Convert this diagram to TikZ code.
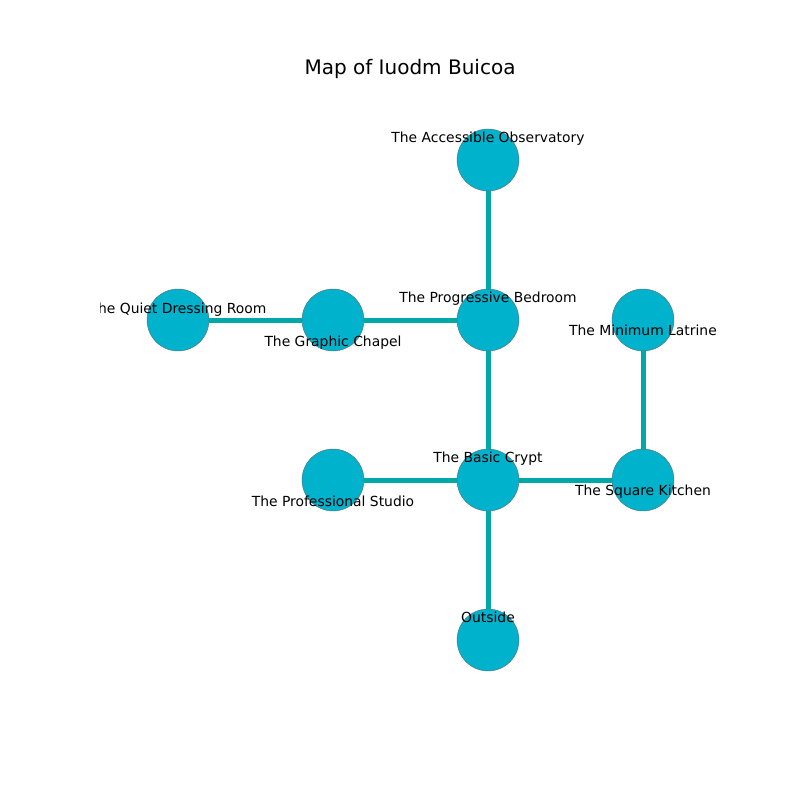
\documentclass[tikz,border=0pt]{standalone}
\usepackage{fontspec}
\setmainfont{DejaVu Sans}
\usepackage{xcolor}

\definecolor{roomfill}{RGB}{0,178,204}
\definecolor{roomedge}{RGB}{80,110,120}
\definecolor{passage}{RGB}{0,168,170}

\tikzset{
  room/.style={circle, fill=roomfill, draw=roomedge, line width=0.3pt,
    minimum size=44.6pt, inner sep=0pt},
  passage/.style={draw=passage, line width=3.6pt},
  roomname/.style={font=\fontsize{10}{12}\selectfont, inner sep=0pt}
}

\begin{document}
\begin{tikzpicture}[x=0.72pt, y=-0.72pt]
\useasboundingbox (0,0) rectangle (800,800);

% title
\node[font=\fontsize{14.4}{17}\selectfont] (title) at (410,69) {Map of Iuodm Buicoa};

% rooms
\node[room] (observatory) at (488,160) {};
\node[room] (bedroom) at (488,320) {};
\node[room] (chapel) at (333,320) {};
\node[room] (dressing) at (178,320) {};
\node[room] (latrine) at (643,320) {};
\node[room] (crypt) at (488,480) {};
\node[room] (studio) at (333,480) {};
\node[room] (kitchen) at (643,480) {};
\node[room] (outside) at (488,640) {};

% passages
\draw[passage] (observatory) -- (bedroom);
\draw[passage] (dressing) -- (chapel);
\draw[passage] (chapel) -- (bedroom);
\draw[passage] (bedroom) -- (crypt);
\draw[passage] (latrine) -- (kitchen);
\draw[passage] (studio) -- (crypt);
\draw[passage] (crypt) -- (kitchen);
\draw[passage] (crypt) -- (outside);

% names
\begin{scope}
\clip (100,96) rectangle (720,712);
\node[roomname] at ([yshift=21*0.72pt]observatory) {The Accessible Observatory};
\node[roomname] at ([yshift=21*0.72pt]bedroom) {The Progressive Bedroom};
\node[roomname] at ([yshift=10*0.72pt]dressing) {The Quiet Dressing Room};
\node[roomname] at ([yshift=-23*0.72pt]chapel) {The Graphic Chapel};
\node[roomname] at ([yshift=-10*0.72pt]latrine) {The Minimum Latrine};
\node[roomname] at ([yshift=21*0.72pt]crypt) {The Basic Crypt};
\node[roomname] at ([yshift=-21*0.72pt]studio) {The Professional Studio};
\node[roomname] at ([yshift=-12*0.72pt]kitchen) {The Square Kitchen};
\node[roomname] at ([yshift=23*0.72pt]outside) {Outside};
\end{scope}

\end{tikzpicture}
\end{document}
